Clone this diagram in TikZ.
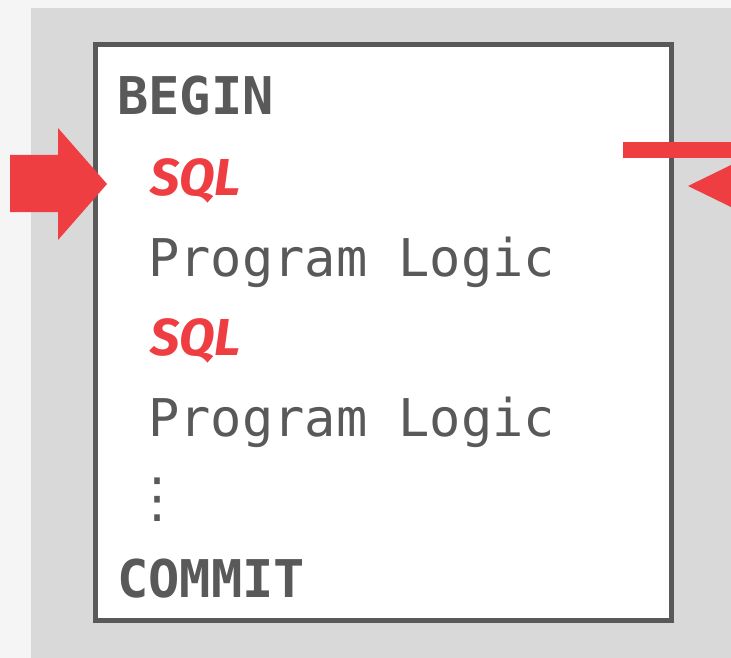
\documentclass[tikz,border=0pt]{standalone}
\usepackage{fontspec}
\setmonofont{DejaVu Sans Mono}
\newfontfamily\sqlfont{Fira Sans}
\newfontfamily\dotsfont{DejaVu Sans}
\usetikzlibrary{positioning}

\definecolor{textgray}{RGB}{89,89,89}
\definecolor{panelgray}{RGB}{217,217,217}
\definecolor{pagegray}{RGB}{245,245,245}
\definecolor{sqlred}{RGB}{239,62,66}

\tikzset{
	codeline/.style={anchor=base west, inner sep=0pt, text=textgray,
		font=\fontsize{52}{60}\selectfont\ttfamily},
	keyword/.style={codeline, font=\fontsize{52}{60}\selectfont\ttfamily\bfseries},
	sqlline/.style={anchor=base west, inner sep=0pt, text=sqlred,
		font=\fontsize{52}{60}\selectfont\sqlfont\bfseries\itshape},
}

\begin{document}
\begin{tikzpicture}[x=1pt,y=-1pt]
		% Page and panel
		\fill[pagegray] (0,0) rectangle (731,658);
		\useasboundingbox (0,0) rectangle (731,658);
		\fill[panelgray] (31,8) rectangle (731,658);
		
		% Transaction box
		\draw[textgray,line width=5pt,fill=white] (95.5,45) rectangle (671.5,620.5);
		
		% Code lines
		\node[keyword] (begin) at (117,115) {BEGIN};
		\node[sqlline] (sqlA) at (150,195) {SQL};
		\node[codeline] (logicA) at (148,276) {Program Logic};
		\node[sqlline] (sqlB) at (150,355) {SQL};
		\node[codeline] (logicB) at (148,436) {Program Logic};
		\node[codeline,anchor=base,font=\fontsize{54}{60}\selectfont\dotsfont] (dots) at (157,516) {⋮};
		\node[keyword] (commit) at (117,597) {COMMIT};
		
		% Arrow into the first query
		\coordinate (tip) at (107,184);
		\fill[sqlred] (10,155) -- (58,155) -- (58,128) -- (tip)
			-- (58,240) -- (58,212) -- (10,212) -- cycle;
		
		% Right side marks
		\fill[sqlred] (623,142) rectangle (731,158);
		\fill[sqlred] (688,186) -- (731,165) -- (731,207) -- cycle;
	\end{tikzpicture}
\end{document}
